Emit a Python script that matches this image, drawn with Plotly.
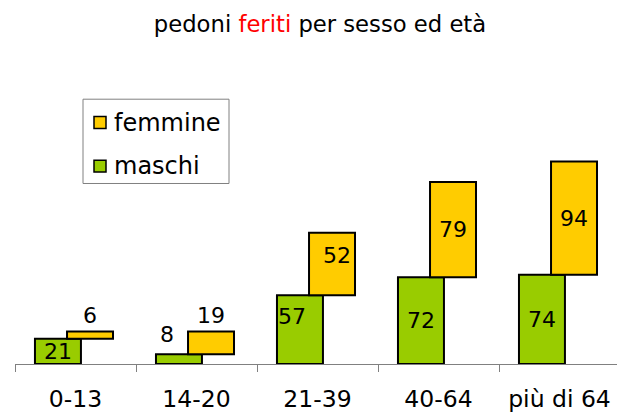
import plotly.graph_objects as go

# Injured pedestrians by age group and sex
age_groups = ["0-13", "14-20", "21-39", "40-64", "più di 64"]
maschi = [21, 8, 57, 72, 74]
femmine = [6, 19, 52, 79, 94]
series_names = ["femmine", "maschi"]

GREEN = "#99CC00"
YELLOW = "#FFCC00"
FONT = "DejaVu Sans"

W, H = 617, 413
M_L, M_R, M_T, M_B = 15, 0, 123, 47
PLOT_W = W - M_L - M_R
PLOT_H = H - M_T - M_B

BAR_W = 0.38
OFF_M = -0.335   # male column sits left of the category centre
OFF_F = -0.07    # female column is stepped to the right, stacked on the male one


def px_x(px):
    return (px - M_L) / PLOT_W


def px_y(py):
    return (H - M_B - py) / PLOT_H


fig = go.Figure()
fig.add_trace(go.Bar(
    x=age_groups, y=maschi, name="maschi",
    width=BAR_W, offset=OFF_M,
    marker=dict(color=GREEN, line=dict(color="#000000", width=2)),
    hoverinfo="skip", showlegend=False,
))
fig.add_trace(go.Bar(
    x=age_groups, y=femmine, base=maschi, name="femmine",
    width=BAR_W, offset=OFF_F,
    marker=dict(color=YELLOW, line=dict(color="#000000", width=2)),
    hoverinfo="skip", showlegend=False,
))

# value labels: centred inside the column, or above it when the column is short
label_shift_m = [(0, 0, False), (-12, 20, True), (-8, 13, False), (0, 0, False), (0, 0, False)]
label_shift_f = [(0, 16, True), (0, 16, True), (5, 8, False), (0, 0, False), (0, 0, False)]

annotations = []
for i, (m, f) in enumerate(zip(maschi, femmine)):
    dx, dy, above = label_shift_m[i]
    annotations.append(dict(
        x=i + OFF_M + BAR_W / 2, y=m if above else m / 2,
        xref="x", yref="y", text=str(m), showarrow=False,
        xshift=dx, yshift=dy, font=dict(family=FONT, size=22, color="#000000"),
    ))
    dx, dy, above = label_shift_f[i]
    annotations.append(dict(
        x=i + OFF_F + BAR_W / 2, y=m + f if above else m + f / 2,
        xref="x", yref="y", text=str(f), showarrow=False,
        xshift=dx, yshift=dy, font=dict(family=FONT, size=22, color="#000000"),
    ))

# legend box drawn by hand: frame, colour swatches and names
shapes = [dict(
    type="rect", xref="paper", yref="paper",
    x0=px_x(83), x1=px_x(229), y0=px_y(184), y1=px_y(99),
    line=dict(color="#808080", width=1), fillcolor="#FFFFFF", layer="above",
)]
for name, color, cy in zip(series_names, [YELLOW, GREEN], [122.5, 166.5]):
    shapes.append(dict(
        type="rect", xref="paper", yref="paper",
        x0=px_x(94), x1=px_x(106), y0=px_y(cy + 6), y1=px_y(cy - 6),
        line=dict(color="#000000", width=1.5), fillcolor=color, layer="above",
    ))
    annotations.append(dict(
        x=px_x(112), y=px_y(cy), xref="paper", yref="paper",
        xanchor="left", yanchor="middle", text=name, showarrow=False,
        font=dict(family=FONT, size=24, color="#000000"),
    ))

fig.update_layout(
    width=W, height=H,
    margin=dict(l=M_L, r=M_R, t=M_T, b=M_B),
    paper_bgcolor="#FFFFFF", plot_bgcolor="#FFFFFF",
    barmode="overlay",
    showlegend=False,
    title=dict(
        text="pedoni <span style='color:#FF0000'>feriti</span> per sesso ed età",
        x=320 / W, xanchor="center", xref="container",
        y=1 - 24 / H, yanchor="middle", yref="container",
        font=dict(family=FONT, size=22.7, color="#000000"),
    ),
    xaxis=dict(
        type="category", range=[-0.5, -0.5 + PLOT_W / 121],
        showline=True, linecolor="#808080", linewidth=1,
        ticks="outside", tickson="boundaries", ticklen=7, tickcolor="#808080",
        showgrid=False, zeroline=False,
        tickfont=dict(family=FONT, size=23.5, color="#000000"),
        ticklabelstandoff=14,
    ),
    yaxis=dict(range=[0, 200], visible=False, showgrid=False, zeroline=False),
    shapes=shapes,
    annotations=annotations,
)

fig.write_html("out.html")
